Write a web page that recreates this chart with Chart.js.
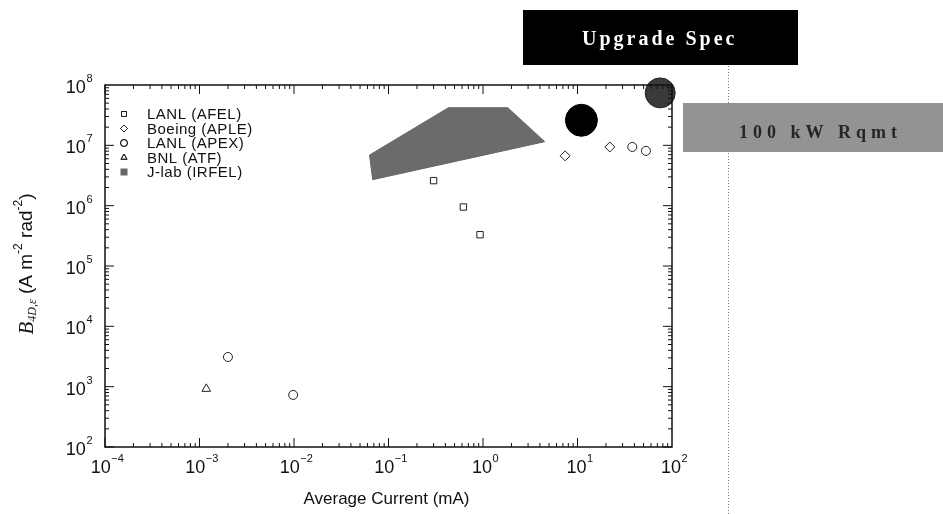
<!DOCTYPE html>
<html>
<head>
<meta charset="utf-8">
<script src="https://cdn.jsdelivr.net/npm/chart.js@4.4.1/dist/chart.umd.min.js"></script>
<style>
  html, body { margin: 0; padding: 0; background: #fff; }
  #wrap { position: relative; width: 943px; height: 514px; }
</style>
</head>
<body>
<div id="wrap"><canvas id="c" width="943" height="514"></canvas></div>
<script>
// series values (x = average current in mA, y = B_4D)
const afel = [{x: 0.30, y: 2.6e6}, {x: 0.62, y: 9.5e5}, {x: 0.93, y: 3.3e5}]
const aple = [{x: 7.4, y: 6.7e6}, {x: 22, y: 9.4e6}]
const apex = [{x: 2.0e-3, y: 3.1e3}, {x: 9.8e-3, y: 7.3e2}, {x: 38, y: 9.4e6}, {x: 53, y: 8.1e6}]
const atf = [{x: 1.18e-3, y: 9.2e2}]
const irfel = [{x: 0.063, y: 6.9e6}, {x: 0.43, y: 4.2e7}, {x: 1.83, y: 4.2e7}, {x: 4.5, y: 1.15e7}, {x: 0.068, y: 2.7e6}, {x: 0.063, y: 6.9e6}]
const upgradeSpec = [{x: 11, y: 2.6e7}]
const rqmt100kW = [{x: 75, y: 7.4e7}]

const seriesNames = ['LANL (AFEL)', 'Boeing (APLE)', 'LANL (APEX)', 'BNL (ATF)', 'J-lab (IRFEL)']

// tick labels (powers of ten)
const xExponents = [-4, -3, -2, -1, 0, 1, 2]
const yExponents = [2, 3, 4, 5, 6, 7, 8]

const open = (data, style, r) => ({
  data: data, pointStyle: style, pointRadius: r, pointBackgroundColor: '#fff',
  pointBorderColor: '#222', pointBorderWidth: 1, showLine: false, order: 1
})

let decor = {
  id: 'decor',
  afterDraw(chart) {
    const ctx = chart.ctx
    const a = chart.chartArea
    const xs = chart.scales.x, ys = chart.scales.y
    ctx.save()

    // frame
    ctx.strokeStyle = '#111'
    ctx.lineWidth = 1.5
    ctx.strokeRect(a.left, a.top, a.right - a.left, a.bottom - a.top)

    // inward ticks on all four sides
    ctx.lineWidth = 1
    for (let e = -4; e < 2; e++) {
      for (let k = 1; k <= 9; k++) {
        let px = xs.getPixelForValue(k * Math.pow(10, e))
        let len = k === 1 ? 9 : 4
        ctx.beginPath()
        ctx.moveTo(px, a.bottom); ctx.lineTo(px, a.bottom - len)
        ctx.moveTo(px, a.top); ctx.lineTo(px, a.top + len)
        ctx.stroke()
      }
    }
    for (let e = 2; e < 8; e++) {
      for (let k = 1; k <= 9; k++) {
        let py = ys.getPixelForValue(k * Math.pow(10, e))
        let len = k === 1 ? 9 : 4
        ctx.beginPath()
        ctx.moveTo(a.left, py); ctx.lineTo(a.left + len, py)
        ctx.moveTo(a.right, py); ctx.lineTo(a.right - len, py)
        ctx.stroke()
      }
    }

    // tick labels
    ctx.fillStyle = '#111'
    ctx.textBaseline = 'middle'
    const pow = (x, y, e, align) => {
      ctx.font = '18px "Liberation Sans", Arial, sans-serif'
      let w = ctx.measureText('10').width
      ctx.font = '11px "Liberation Sans", Arial, sans-serif'
      let s = String(e).replace('-', '\u2212')
      let sw = ctx.measureText(s).width
      let x0 = align === 'right' ? x - w - sw : x - (w + sw) / 2
      ctx.textAlign = 'left'
      ctx.font = '18px "Liberation Sans", Arial, sans-serif'
      ctx.fillText('10', x0, y)
      ctx.font = '11px "Liberation Sans", Arial, sans-serif'
      ctx.fillText(s, x0 + w + 0.5, y - 9)
    }
    xExponents.forEach(e => pow(xs.getPixelForValue(Math.pow(10, e)) + 2, a.bottom + 21, e, 'center'))
    yExponents.forEach(e => pow(a.left - 13, ys.getPixelForValue(Math.pow(10, e)) + 3, e, 'right'))

    // axis titles
    ctx.textAlign = 'center'
    ctx.font = '17px "Liberation Sans", Arial, sans-serif'
    ctx.fillText('Average Current (mA)', (a.left + a.right) / 2 - 2, 499)

    ctx.save()
    ctx.translate(27, 264)
    ctx.rotate(-Math.PI / 2)
    let parts = [
      ['B', 'italic 21px "Liberation Serif", serif', 0],
      ['4D,\u03b5', 'italic 12px "Liberation Serif", serif', 6],
      [' (A m', '19px "Liberation Sans", Arial, sans-serif', 0],
      ['-2', '12px "Liberation Sans", Arial, sans-serif', -8],
      [' rad', '19px "Liberation Sans", Arial, sans-serif', 0],
      ['-2', '12px "Liberation Sans", Arial, sans-serif', -8],
      [')', '19px "Liberation Sans", Arial, sans-serif', 0]
    ]
    let total = 0
    parts.forEach(p => { ctx.font = p[1]; total += ctx.measureText(p[0]).width })
    let cx = -total / 2
    ctx.textAlign = 'left'
    parts.forEach(p => {
      ctx.font = p[1]
      ctx.fillText(p[0], cx, p[2])
      cx += ctx.measureText(p[0]).width
    })
    ctx.restore()

    // legend
    ctx.font = '15px "Liberation Sans", Arial, sans-serif'
    ctx.letterSpacing = '0.5px'
    ctx.textAlign = 'left'
    seriesNames.forEach((name, i) => {
      let y = 114 + i * 14.5
      let ds = chart.data.datasets[i]
      let mx = 124
      ctx.strokeStyle = '#222'
      ctx.fillStyle = '#fff'
      ctx.lineWidth = 1
      if (i === 4) {
        ctx.fillStyle = '#666'
        ctx.fillRect(mx - 3.5, y - 3.5, 7, 7)
      } else {
        Chart.helpers.drawPoint(ctx, {pointStyle: ds.pointStyle, radius: 3.5, borderWidth: 1}, mx, y)
        ctx.stroke()
      }
      ctx.fillStyle = '#111'
      ctx.fillText(name, 147, y + 1)
    })
    ctx.letterSpacing = '0px'

    // right-hand annotation boxes
    ctx.strokeStyle = '#777'
    ctx.setLineDash([1, 2])
    ctx.beginPath()
    ctx.moveTo(728.5, 66); ctx.lineTo(728.5, 514)
    ctx.stroke()
    ctx.setLineDash([])

    ctx.fillStyle = '#000'
    ctx.fillRect(523, 10, 275, 55)
    ctx.fillStyle = '#fff'
    ctx.font = 'bold 20px "Liberation Serif", "Times New Roman", serif'
    ctx.textAlign = 'left'
    ctx.letterSpacing = '3px'
    ctx.fillText('Upgrade Spec', 582, 40)

    ctx.fillStyle = '#939393'
    ctx.fillRect(683, 103, 260, 49)
    ctx.fillStyle = '#262626'
    ctx.font = 'bold 18px "Liberation Serif", "Times New Roman", serif'
    ctx.letterSpacing = '5px'
    ctx.fillText('100 kW Rqmt', 739, 133)
    ctx.letterSpacing = '0px'

    ctx.restore()
  }
}

const chart = new Chart(document.getElementById('c').getContext('2d'), {
  type: 'scatter',
  data: {
    datasets: [
      Object.assign(open(afel, 'rect', 4.5), {label: seriesNames[0]}),
      Object.assign(open(aple, 'rectRot', 5), {label: seriesNames[1]}),
      Object.assign(open(apex, 'circle', 4.5), {label: seriesNames[2]}),
      Object.assign(open(atf, 'triangle', 5), {label: seriesNames[3]}),
      {
        label: seriesNames[4], data: irfel, showLine: true, fill: 'shape',
        backgroundColor: '#6b6b6b', borderColor: '#666', borderWidth: 1,
        pointRadius: 0, tension: 0, order: 3
      },
      {
        label: 'Upgrade Spec', data: upgradeSpec, pointRadius: 16,
        pointBackgroundColor: '#000', pointBorderColor: '#000', order: 2
      },
      {
        label: '100 kW Rqmt', data: rqmt100kW, pointRadius: 15,
        pointBackgroundColor: '#3a3a3a', pointBorderColor: '#222', order: 0
      }
    ]
  },
  options: {
    responsive: false,
    animation: false,
    clip: false,
    layout: { padding: { left: 105, right: 271, top: 85, bottom: 67 } },
    plugins: { legend: { display: false }, tooltip: { enabled: false } },
    scales: {
      x: { type: 'logarithmic', min: 1e-4, max: 100, display: false },
      y: { type: 'logarithmic', min: 100, max: 1e8, display: false }
    }
  },
  plugins: [decor]
})
</script>
</body>
</html>
